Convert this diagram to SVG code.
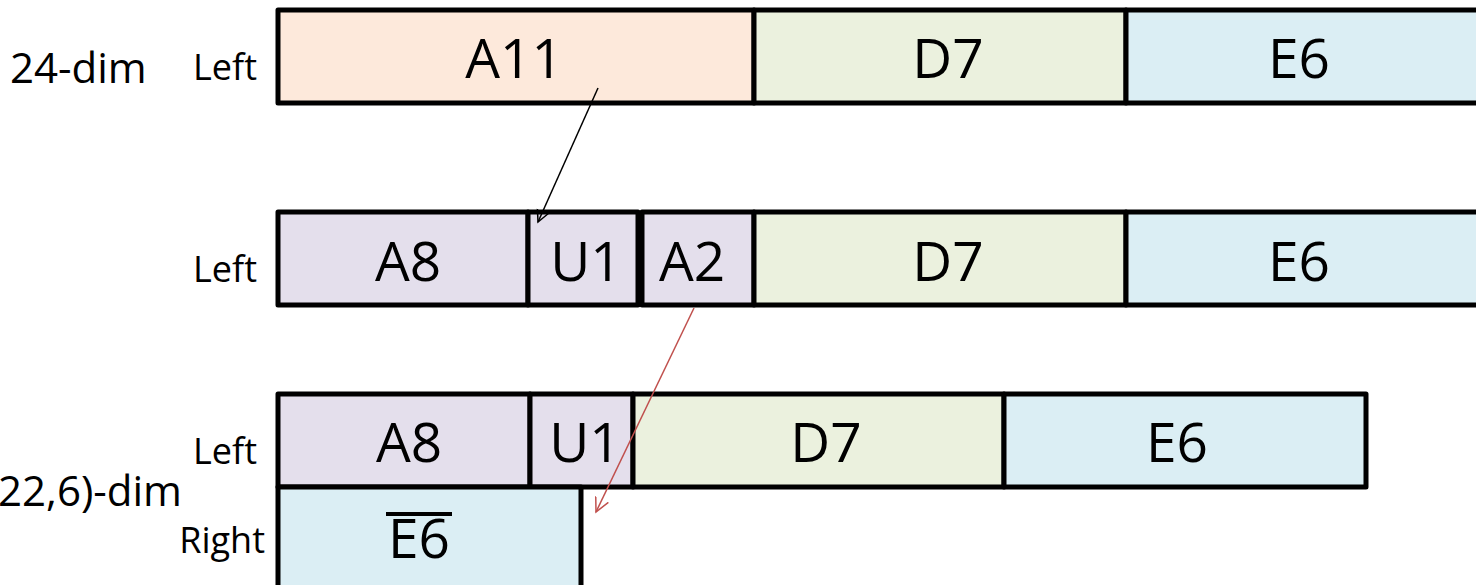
<svg xmlns="http://www.w3.org/2000/svg" width="1476" height="585" viewBox="0 0 1476 585">
<style>
.b{stroke:#000;stroke-width:5;stroke-linejoin:round}
.pk{fill:#fde9db}.gr{fill:#ebf1de}.bl{fill:#dbeef4}.pu{fill:#e4dfec}
.t{font-family:"Open Sans","Liberation Sans",sans-serif;font-size:55px;fill:#000;text-anchor:middle}
.l{font-family:"Open Sans","Liberation Sans",sans-serif;font-size:36px;fill:#000;text-anchor:end}
.d{font-family:"Open Sans","Liberation Sans",sans-serif;font-size:42px;fill:#000}
</style>
<defs>
<marker id="ak" markerWidth="14" markerHeight="14" refX="12" refY="7" orient="auto" markerUnits="userSpaceOnUse"><path d="M0,1 L12,7 L0,13" fill="none" stroke="#000" stroke-width="1.5"/></marker>
<marker id="ar" markerWidth="16" markerHeight="16" refX="14" refY="8" orient="auto" markerUnits="userSpaceOnUse"><path d="M0,1 L14,8 L0,15" fill="none" stroke="#c0504d" stroke-width="1.5"/></marker>
</defs>
<g id="labels">
<text class="d" x="10" y="83">24-dim</text>
<text class="l" x="257" y="80">Left</text>
<text class="l" x="257" y="282">Left</text>
<text class="l" x="257" y="464">Left</text>
<text class="d" x="182" y="506" text-anchor="end">(22,6)-dim</text>
<text class="l" x="265" y="553">Right</text>
</g>
<g id="row1">
<g id="r1-A11"><rect class="b pk" x="278" y="10" width="476" height="93"/><text class="t" x="514" y="78">A11</text></g>
<g id="r1-D7"><rect class="b gr" x="754" y="10" width="372" height="93"/><text class="t" x="948" y="78">D7</text></g>
<g id="r1-E6"><rect class="b bl" x="1126" y="10" width="360" height="93"/><text class="t" x="1299" y="78">E6</text></g>
</g>
<g id="row2">
<g id="r2-A8"><rect class="b pu" x="278" y="212" width="250" height="93"/><text class="t" x="408" y="281">A8</text></g>
<g id="r2-U1"><rect class="b pu" x="528" y="212" width="110" height="93"/><text class="t" x="586" y="281">U1</text></g>
<g id="r2-A2"><rect class="b pu" x="642" y="212" width="112" height="93"/><text class="t" x="692" y="281">A2</text></g>
<g id="r2-D7"><rect class="b gr" x="754" y="212" width="372" height="93"/><text class="t" x="948" y="281">D7</text></g>
<g id="r2-E6"><rect class="b bl" x="1126" y="212" width="360" height="93"/><text class="t" x="1299" y="281">E6</text></g>
</g>
<g id="row3">
<g id="r3-A8"><rect class="b pu" x="278" y="394" width="252" height="93"/><text class="t" x="409" y="462">A8</text></g>
<g id="r3-U1"><rect class="b pu" x="530" y="394" width="103" height="93"/><text class="t" x="585" y="462">U1</text></g>
<g id="r3-D7"><rect class="b gr" x="633" y="394" width="371" height="93"/><text class="t" x="826" y="462">D7</text></g>
<g id="r3-E6"><rect class="b bl" x="1004" y="394" width="362" height="93"/><text class="t" x="1177" y="462">E6</text></g>
</g>
<g id="row4">
<g id="r4-E6bar"><rect class="b bl" x="278" y="487" width="303" height="110"/><text class="t" x="419" y="558">E6</text><line x1="386" y1="514" x2="452" y2="514" stroke="#000" stroke-width="4"/></g>
</g>
<g id="connectors">
<line x1="598" y1="88" x2="538" y2="222" stroke="#000" stroke-width="1.5" marker-end="url(#ak)"/>
<line x1="694" y1="308" x2="596" y2="512" stroke="#c0504d" stroke-width="1.5" marker-end="url(#ar)"/>
</g>
</svg>
